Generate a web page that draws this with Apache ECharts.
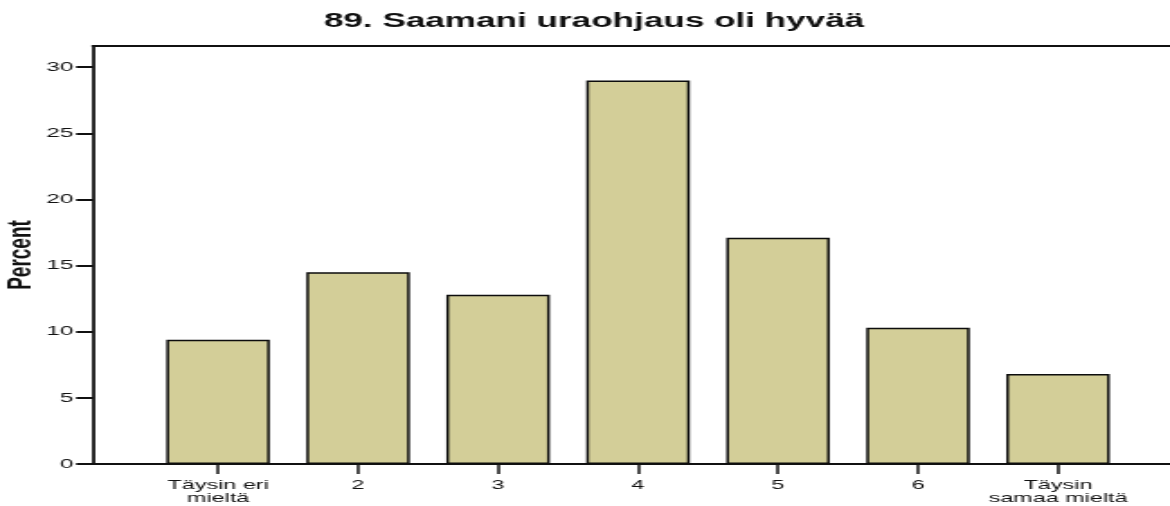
<!DOCTYPE html>
<html>
<head>
<meta charset="utf-8">
<script src="https://cdn.jsdelivr.net/npm/echarts@6/dist/echarts.min.js"></script>
<style>
  html, body { margin: 0; padding: 0; background: #fff; overflow: hidden; }
  /* chart is laid out at 650px and stretched horizontally to 1170px */
  #chart { width: 650px; height: 506px; transform: scaleX(1.8); transform-origin: 0 0; }
</style>
</head>
<body>
<div id="chart"></div>
<script>
// Response categories (1–7 scale)
const categories = ['Täysin eri\nmieltä', '2', '3', '4', '5', '6', 'Täysin\nsamaa mieltä'];
// Percent of respondents per category
const percents = [9.4, 14.5, 12.8, 29.0, 17.1, 10.3, 6.8];
// Y axis tick values
const yTicks = [0, 5, 10, 15, 20, 25, 30];
const catPositions = categories.map((_, i) => i);

const ink = '#111';
const font = 'Liberation Sans, Arial, sans-serif';

const chart = echarts.init(document.getElementById('chart'));
chart.setOption({
  animation: false,
  title: {
    text: '89. Saamani uraohjaus oli hyvää',
    left: 325,
    textAlign: 'center',
    top: 7,
    textStyle: { fontFamily: font, fontSize: 19.5, fontWeight: 'bold', color: ink }
  },
  grid: { left: 51.7, right: 0, top: 46, bottom: 42, outerBoundsMode: 'none', containLabel: false },
  xAxis: [{
    type: 'value',
    min: -0.893,
    max: 6.8,
    splitLine: { show: false },
    axisLine: { show: true, onZero: false, lineStyle: { color: ink, width: 2 } },
    axisTick: { show: true, customValues: catPositions, length: 10, lineStyle: { color: ink, width: 1.5 } },
    axisLabel: {
      customValues: catPositions,
      margin: 15,
      fontFamily: font, fontSize: 13, lineHeight: 13, color: ink,
      formatter: v => categories[Math.round(v)]
    }
  }, {
    type: 'value',
    position: 'top',
    min: -0.893,
    max: 6.8,
    splitLine: { show: false },
    axisLine: { show: true, onZero: false, lineStyle: { color: ink, width: 2 } },
    axisTick: { show: false },
    axisLabel: { show: false }
  }],
  yAxis: {
    type: 'value',
    position: 'left',
    min: 0,
    max: 31.6,
    interval: 5,
    name: 'Percent',
    nameLocation: 'middle',
    nameRotate: 90,
    nameGap: 30,
    nameMoveOverlap: false,
    nameTextStyle: { fontFamily: font, fontSize: 19, fontWeight: 'bold', color: ink },
    splitLine: { show: false },
    axisLine: { show: true, onZero: false, lineStyle: { color: ink, width: 1.8 } },
    axisTick: { show: true, customValues: yTicks, length: 9.4, lineStyle: { color: ink, width: 2 } },
    axisLabel: { customValues: yTicks, margin: 11, fontFamily: font, fontSize: 13.5, color: ink }
  },
  series: [{
    type: 'bar',
    xAxisIndex: 0,
    barWidth: 57.5,
    data: percents.map((v, i) => [i, v]),
    itemStyle: { color: '#d3ce98', borderColor: '#0d0d0d', borderWidth: 1.5 }
  }]
});
</script>
</body>
</html>
